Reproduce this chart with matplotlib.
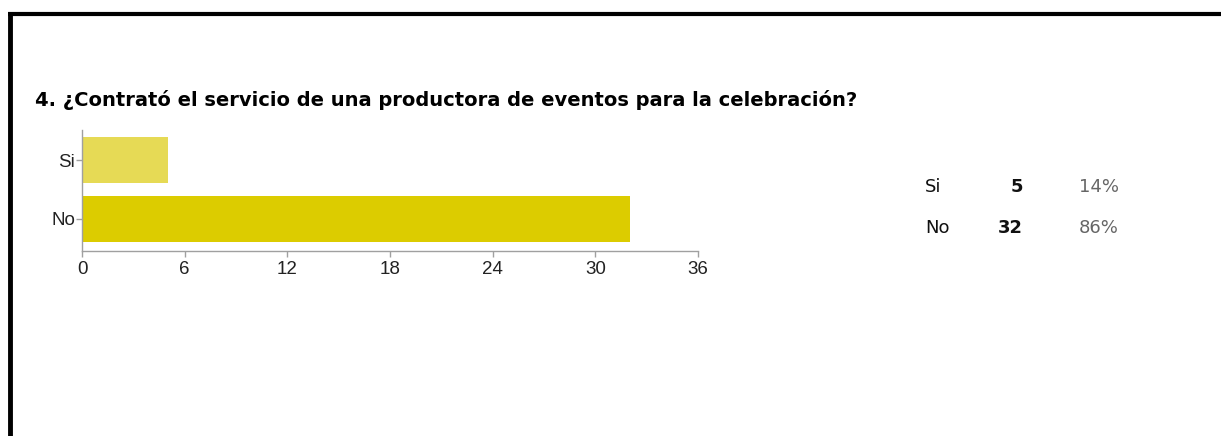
import matplotlib.pyplot as plt
from matplotlib.lines import Line2D

# survey answers
categories = ["No", "Si"]
counts = [32, 5]
percents = ["86%", "14%"]
bar_colors = ["#dccc00", "#e6da55"]
x_ticks = [0, 6, 12, 18, 24, 30, 36]
title = "4. ¿Contrató el servicio de una productora de eventos para la celebración?"

plt.rcParams["font.family"] = ["Liberation Sans", "DejaVu Sans"]

W, H = 1221, 436
fig = plt.figure(figsize=(W / 100, H / 100), dpi=100)

# black frame, cut off on the right and bottom
fig.add_artist(Line2D([8 / W, 1], [1 - 14.5 / H, 1 - 14.5 / H], color="black", lw=3,
                      solid_capstyle="butt", transform=fig.transFigure))
fig.add_artist(Line2D([10 / W, 10 / W], [0, 1 - 13 / H], color="black", lw=3.5,
                      solid_capstyle="butt", transform=fig.transFigure))

fig.text(35 / W, 1 - 100 / H, title, fontsize=14, fontweight="bold",
         family="DejaVu Sans", va="center", ha="left")

ax = fig.add_axes([82 / W, 1 - 251 / H, 616 / W, 121 / H])
ax.barh(range(len(categories)), counts, height=0.79, color=bar_colors, edgecolor="none")
ax.set_xlim(0, 36)
ax.set_ylim(-0.55, 1.52)
ax.set_xticks(x_ticks)
ax.set_yticks(range(len(categories)))
ax.set_yticklabels(categories)
for s in ["top", "right"]:
    ax.spines[s].set_visible(False)
for s in ["left", "bottom"]:
    ax.spines[s].set_color("#a0a0a0")
    ax.spines[s].set_linewidth(1)
ax.tick_params(axis="both", colors="#a0a0a0", length=4, width=1,
               labelcolor="#222222", labelsize=13.5)
ax.tick_params(axis="x", pad=3)
ax.tick_params(axis="y", pad=1)

# summary table on the right
rows_y = [228, 187]
for i, cat in enumerate(categories):
    y = 1 - rows_y[i] / H
    fig.text(925 / W, y, cat, fontsize=13, family="DejaVu Sans",
             va="center", ha="left", color="#111111")
    fig.text(1023 / W, y, str(counts[i]), fontsize=13, fontweight="bold",
             family="DejaVu Sans", va="center", ha="right", color="#111111")
    fig.text(1079 / W, y, percents[i], fontsize=13, family="DejaVu Sans",
             va="center", ha="left", color="#666666")

fig.savefig("out.png", dpi=100, facecolor="white")
